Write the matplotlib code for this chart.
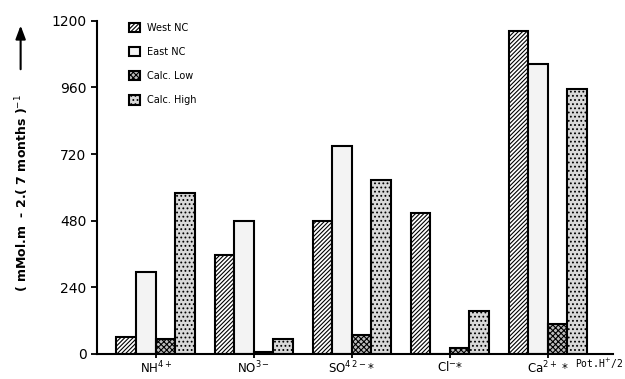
import numpy as np
import matplotlib.pyplot as plt
from matplotlib.patches import Patch

# Values
ions = ["NH$^{4+}$", "NO$^{3-}$", "SO$^{4\\,2-}$*", "Cl$^{-}$*", "Ca$^{2+}$ *"]
west_nc = [60, 357, 480, 508, 1164]
east_nc = [295, 480, 750, 0, 1045]
calc_low = [54, 7, 68, 20, 108]
calc_high = [580, 54, 625, 155, 955]
yticks = [0, 240, 480, 720, 960, 1200]

plt.rcParams["hatch.linewidth"] = 0.8
fig = plt.figure(figsize=(6.25, 3.79), dpi=100)
ax = fig.add_axes([0.155, 0.066, 0.825, 0.879])

x = np.arange(len(ions))
w = 0.2
series = [
    (west_nc, "West NC", "////////", "white"),
    (east_nc, "East NC", None, "#f3f3f3"),
    (calc_low, "Calc. Low", "xxxxxx", "#bdbdbd"),
    (calc_high, "Calc. High", "....", "#d9d9d9"),
]
handles = []
for i, (vals, name, hatch, fc) in enumerate(series):
    ax.bar(x + (i - 1.5) * w, vals, width=w, color=fc, edgecolor="black",
           hatch=hatch, linewidth=1.5)
    handles.append(Patch(facecolor=fc, edgecolor="black", hatch=hatch,
                         linewidth=1.5, label=name))

ax.set_xlim(-0.6, 4.66)
ax.set_ylim(0, 1200)
ax.set_yticks(yticks)
ax.set_xticks(x)
ax.set_xticklabels(ions, fontsize=8.5)
ax.tick_params(axis="y", labelsize=10, width=1.3, length=4)
ax.tick_params(axis="x", width=1.3, length=3, pad=1)
ax.spines["top"].set_visible(False)
ax.spines["right"].set_visible(False)
ax.spines["left"].set_linewidth(1.5)
ax.spines["bottom"].set_linewidth(1.5)

fig.text(0.998, 0.04, "Pot.H$^{+}$/2", ha="right", va="center",
         fontsize=7, family="DejaVu Sans Mono")

ax.legend(handles=handles, loc="upper left", bbox_to_anchor=(0.045, 1.02),
          frameon=False, fontsize=7, handlelength=1.1, handleheight=1.1,
          labelspacing=1.45)

fig.text(0.035, 0.49, "( mMol.m  - 2.( 7 months )$^{-1}$", rotation=90,
         ha="center", va="center", fontsize=9, fontweight="bold")
ax.annotate("", xy=(0.033, 0.94), xytext=(0.033, 0.81),
            xycoords="figure fraction", textcoords="figure fraction",
            annotation_clip=False,
            arrowprops=dict(arrowstyle="-|>,head_width=0.3,head_length=0.8",
                            color="black", lw=1.5))

fig.savefig("out.png", dpi=100)
